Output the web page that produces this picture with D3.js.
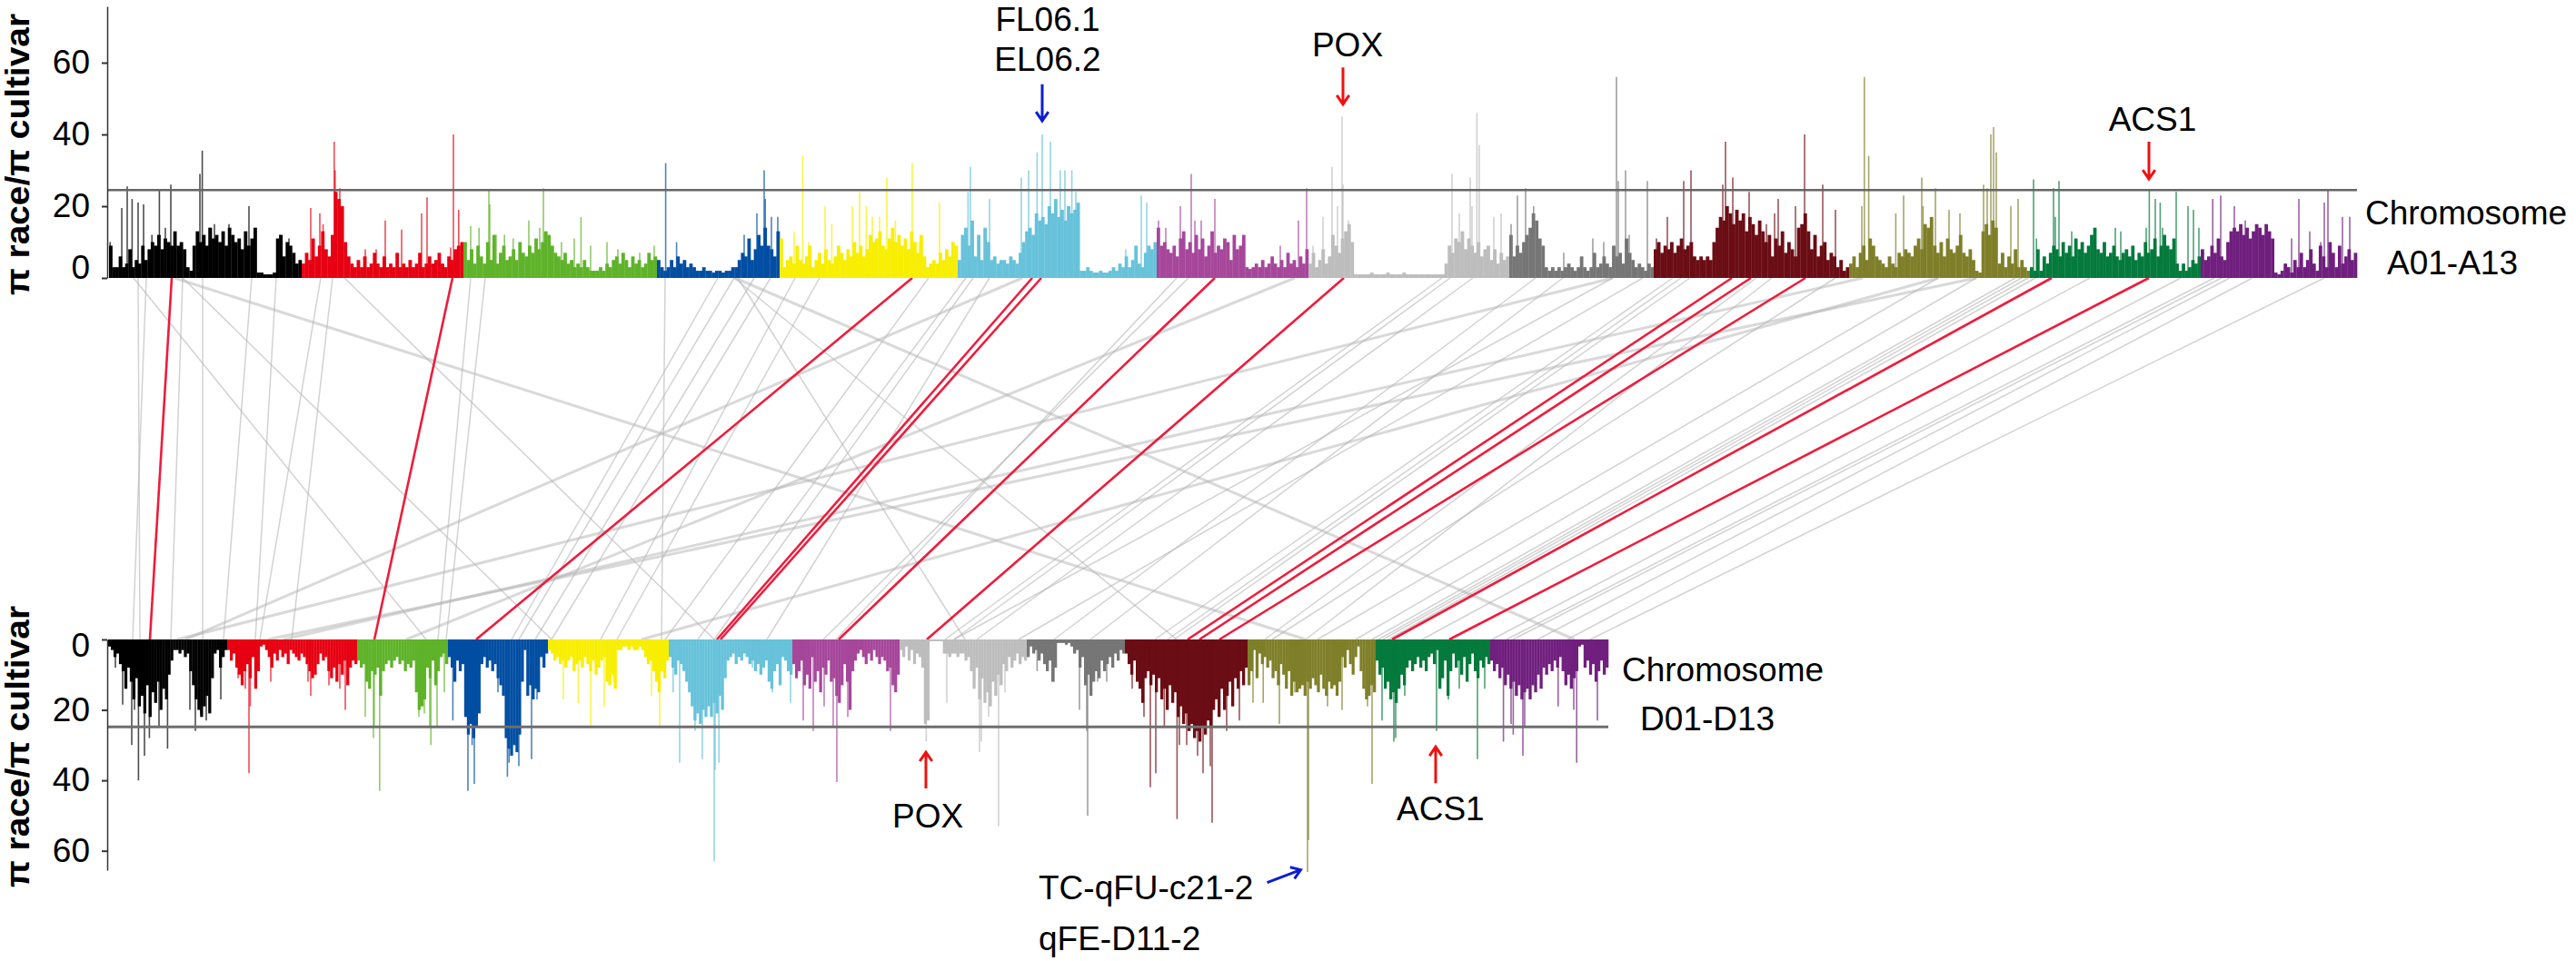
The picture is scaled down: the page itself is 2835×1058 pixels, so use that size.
<!DOCTYPE html>
<html>
<head>
<meta charset="utf-8">
<script src="https://cdn.jsdelivr.net/npm/d3@7"></script>
<style>
html, body { margin: 0; background: #fff; }
text { font-family: "Liberation Sans", Arial, sans-serif; }
</style>
</head>
<body>
<div id="chart"></div>
<script>
// 染色体の長さ (Mb)
const lenA = [106, 89, 106.5, 67.5, 98, 109.5, 83.5, 110.5, 79.5, 107.5, 99.5, 94, 86];
const lenD = [65.5, 71.5, 50, 55, 66.5, 68, 59, 70, 54, 67.5, 70.5, 63, 65];
const chrColors = ["#000000", "#e60012", "#5fb32a", "#004ea2", "#f8ee00", "#67c2da", "#a6479b",
    "#bdbdbd", "#767676", "#6b0d14", "#7f7f2a", "#047a3c", "#701f7e"];

// A subgenome: body values per equal bin
const a01 = [9,3,3,6,3,4,8,3,5,4,9,5,8,10,9,12,8,11,10,9,13,9,10,8,3,2,9,13,10,12,9,14,11,12,10,13,9,14,12,10,11,8,13,9,11,14,1.5,1.5,1,1,1,1.5,11,12,6,10,9,7,4,5];
const a02 = [4,7,5,11,6,9,13,8,6,12,24,22,20,10,6,4,3,5,3,6,3,4,7,4,3,6,3,4,3,7,3,4,3,5,3,4,7,3,4,6,4,5,7,4,3,6,5,8,9,10];
const a03 = [10,5,8,4,9,6,4,10,5,12,4,7,9,5,6,8,5,10,7,6,9,7,11,8,10,13,12,9,7,6,5,7,4,5,3,4,3,5,3,2,2,2,3,2,4,3,5,6,4,7,5,3,6,4,5,3,4,7,5,6];
const a04 = [5,3,2,3,5,3,6,4,5,3,4,3,2,2,3,2,2,1.5,2,2,1.5,2,2,3,3,5,7,6,11,5,8,12,9,14,9,8,6,13];
const a05 = [11,3,5,6,4,9,5,4,6,9,3,5,7,4,8,5,4,6,9,7,5,8,6,10,7,9,6,8,12,10,11,13,9,8,11,14,10,12,9,11,8,13,10,7,12,6,3,4,5,4,7,5,8,6,10,9];
const a06 = [5,12,14,9,16,6,12,5,14,10,5,6,4,5,5,4,6,5,4,7,10,13,14,12,18,16,17,15,20,18,22,17,19,16,20,18,19,21,2,2,3,2,1.5,1.5,2,1.5,1.5,2,3,2,4,3,6,3,5,9,4,3,7,9,8,10];
const a07 = [14,9,10,8,7,9,6,11,13,8,10,7,12,8,11,6,9,13,7,9,8,11,10,5,12,8,9,12,3,2.5,3,4,3,5,3,4,6,4,3,5,3,7,4,5,3,6,4,8];
const a08 = [4,7,3,5,8,4,6,12,9,7,11,13,15,10,1,1,1,1,1,1.5,1,1,1,1,1.5,1,1,1,1,1.5,1,1,1,1,1,1,1,1,1,1,1,1,4,9,7,11,10,13,8,11,9,7,10,6,8,9,5,8,4,7,5,6];
const a09 = [12,6,9,7,10,12,14,18,16,11,9,3,2,3,2,3,2,3,4,3,2,3,6,3,2,3,7,3,4,6,4,3,9,6,7,4,11,7,5,3,4,3,2,4,3];
const a10 = [8,10,7,9,8,10,7,9,11,8,9,10,6,5,6,5,6,5,10,14,17,16,20,18,15,19,16,18,13,17,15,12,16,13,10,12,6,11,9,13,7,10,8,6,14,15,18,13,8,12,6,9,10,5,7,6,3,5,2,3];
const a11 = [4,6,3,7,9,5,11,9,6,5,4,3,6,4,3,7,6,8,7,6,9,11,8,15,14,17,9,7,10,6,11,8,7,9,12,7,6,8,5,2,1.5,13,15,12,16,14,4,7,3,6,4,8,3,5,3,2];
const a12 = [3,2,8,2,6,4,7,9,8,6,10,7,9,6,11,8,10,7,9,12,14,8,7,10,6,7,9,6,5,7,8,6,9,5,7,6,10,7,8,11,6,9,12,9,8,11,4,2,4,2,3,5,4,6];
const a13 = [8,5,6,9,7,11,6,5,10,13,14,13,15,12,14,11,13,15,14,12,15,13,11,1.5,1,2,4,3,1.5,5,3,7,3,5,8,4,2,9,6,3,10,7,3,9,4,6,8,5,7];

// A subgenome: narrow peaks [Mb from chromosome start, value]
const a01Peaks = [[0.6,10],[7,19.5],[10,25.5],[12.7,22],[16,21],[19,20.5],[23.6,12],[27.7,24.5],[31,14],[34,26],[50,29],[51.3,35.5],[55,14],[58,15],[66,15],[77,20],[94,12],[99,11]];
const a02Peaks = [[5,19.5],[10,18],[11.8,15],[17.9,38],[18.4,30],[21,25],[35,8],[41,8],[46,16],[55,13.5],[66,18],[69,22.5],[82,8.5],[83.5,40],[86.4,19]];
const a03Peaks = [[4,14.5],[8.6,14],[14,24.5],[14.5,20.5],[18,12],[22.6,12],[27.4,11],[36,16],[44,25],[42,14],[54,10],[61,11],[64.7,17],[70,9],[79,10],[85,8],[97,7],[105,9]];
const a04Peaks = [[4.8,32],[10.8,10],[48,12],[55,18],[59,30],[59.6,22],[63,17],[66.5,17]];
const a05Peaks = [[8,13],[12.7,34],[16,10],[25,20],[28.7,15],[40,20],[44,24],[47.7,20],[51,17],[55,17],[59,28],[63.7,16],[73,32],[77,10],[88,21],[95,10]];
const a06Peaks = [[7,31],[5.7,24],[17.5,22],[35,28],[39,30],[43.7,35],[46.5,40],[51,38],[56.4,30],[59,30],[62.8,30],[65,24],[92.5,8],[101,23],[104,21]];
const a07Peaks = [[1,16],[5,14],[13,20],[19,29],[21,16],[24.5,16],[32,22],[37.5,9],[48,8],[68,9],[78,16],[82.5,25]];
const a08Peaks = [[2.5,9],[8,17],[13,31],[16,20],[18.5,45],[19,26],[22,16],[79,29],[83,18],[89,28],[90,20],[92.7,46],[94,37],[102,17],[106,18]];
const a09Peaks = [[1,15],[4.5,23],[9,25],[13.4,20],[30,7],[46,11],[52,10],[59,56],[60,27],[64,30],[66,12],[76,27]];
const a10Peaks = [[1.5,11],[7.5,17],[16.5,27],[20.5,30],[38,26],[39.5,38],[43.5,28],[52.5,24],[62,15],[66.5,18],[68.5,22],[78,20],[83,40],[93,26],[100,19]];
const a11Peaks = [[7,20],[8.4,56],[10.8,34],[25.7,18],[30,23],[40,28],[40.7,20],[47.5,25],[55,19],[61,18],[74,26],[76,25],[78,40],[79.5,42],[81,35],[89,20],[93,22]];
const a12Peaks = [[2,27.5],[3.6,11],[13,25],[14,17],[16,27],[23,13],[36,13],[47,14],[50,13],[64,14],[65.7,24.5],[69,22],[71.7,21],[73,14],[80.5,24],[87,20],[90,19],[93,14]];
const a13Peaks = [[6.6,22],[11,23],[18.5,20],[24.5,16],[33.5,10],[50,11],[54,22],[60,13],[66,10],[68,21],[70,24.5],[78,17],[82,17]];

// D subgenome: body values per equal bin
const d01 = [2,3,5,4,7,9,14,8,12,17,11,19,16,21,13,22,15,18,12,20,14,17,10,6,3,3,4,3,5,4,9,13,17,20,22,19,16,21,11,4,3,8,5,3];
const d02 = [3,6,4,8,10,13,9,7,11,5,14,9,2,1.5,3,5,8,4,6,3,5,4,7,3,4,5,6,4,5,7,9,11,10,7,4,6,5,9,11,8,12,7,10,6,13,8,6,7];
const d03 = [6,8,7,12,14,9,10,8,16,9,7,6,8,6,5,7,6,9,7,8,6,15,20,19,17,8,11,6,13,9,5,4,7];
const d04 = [5,8,12,6,9,7,22,27,24,28,25,21,7,5,8,6,9,7,11,13,16,28,31,33,30,32,27,12,3,16,13,17,14,15,5,8,4];
const d05 = [3,4,6,5,7,6,8,6,5,9,7,6,8,5,7,9,6,10,8,6,5,12,13,10,14,3,3,2,2,3,2,3,3,2,3,5,7,6,9,12,15,9,11,6];
const d06 = [5,8,10,6,7,9,12,15,19,23,21,24,20,22,19,22,18,21,16,20,11,6,5,4,7,5,6,4,5,7,6,9,7,10,8,6,12,14,9,7,13,5,6,9,10];
const d07 = [7,11,9,6,13,10,14,5,12,9,15,8,10,6,12,11,16,18,13,7,12,20,9,6,4,3,5,7,4,6,3,5,7,5,6,9,8,13,15,10];
const d08 = [3,5,2,6,3,7,4,5,8,24,23,0.5,0.5,0.5,0.5,0.5,4,4,5,4,4,5,4,4,6,5,9,14,8,17,11,18,15,19,12,16,10,13,7,9,5,8,6,4,7,5,6];
const d09 = [5,2,4,3,6,4,7,9,6,12,8,1,1,1,1.5,1,2,4,3,8,5,13,10,16,12,9,11,6,9,7,5,8,4,6,3,4];
const d10 = [4,7,10,6,12,14,18,11,9,13,10,15,11,17,14,20,13,18,15,22,19,24,21,26,24,28,26,29,25,27,23,25,20,17,22,14,20,16,12,19,11,14,9,13,8];
const d11 = [13,9,3,11,4,7,5,8,6,11,9,13,7,10,14,9,16,12,15,14,13,16,12,14,11,13,15,10,14,16,12,14,13,16,12,5,8,3,7,10,5,2,9,14,17,16,13,15];
const d12 = [6,10,8,14,12,17,15,18,14,10,13,8,6,9,7,5,8,6,9,5,4,7,3,14,11,6,16,9,4,8,6,10,5,12,7,4,9,11,6,8,5,7];
const d13 = [6,9,7,11,8,13,10,14,12,16,13,17,15,14,17,13,15,10,14,8,10,7,9,6,8,5,9,13,10,14,11,9,2,1.5,8,6,10,7,12,9,6,10,8];

// D subgenome: narrow peaks
const d01Peaks = [[4,8],[8,18.5],[13,30],[14.5,20],[16.7,40],[20,33],[22.7,28],[28,25],[32.7,31],[45,20],[48,26],[51,21],[54,23],[62,17]];
const d02Peaks = [[6,11],[10,14],[12,38],[12.7,19],[24,12],[44.5,12],[46,16],[56,13],[62,14],[65,20]];
const d03Peaks = [[4.5,22],[9,28],[9.4,25],[12.4,43],[34,22],[37,21],[40,25],[40.6,30],[44,25],[48,15]];
const d04Peaks = [[2.7,23],[11,43],[13.3,30],[14.5,41],[27.5,15],[32.7,39],[33.6,35],[39,36],[46,34],[49,17]];
const d05Peaks = [[8.5,17],[16.7,18],[23.6,25],[31,19],[36,12],[57,16],[61.5,25]];
const d06Peaks = [[2.4,15],[6,35],[14.5,26],[18.5,34],[25,63],[25.5,37],[27.6,35],[46,8],[57,15],[67,18]];
const d07Peaks = [[6,23],[11.5,26],[17.5,19],[22.5,25],[24.5,40.5],[30.5,22],[54,26]];
const d08Peaks = [[14.7,29],[26,18],[44,32],[45,29],[49,22],[54.5,53],[58,15]];
const d09Peaks = [[5.7,9],[15,12],[29,20],[33,26],[33.5,50],[39,12],[44,12]];
const d10Peaks = [[4,14],[10.5,22],[14,42],[17,38],[21.7,25],[28.7,51],[30,30],[34,30],[40,33],[43,38],[47,36],[48,52],[56,26],[63,23]];
const d11Peaks = [[3,18],[8.6,18],[17.5,24],[26,15],[33,66],[33.5,57],[44,19],[52,20],[66,19],[68.5,41]];
const d12Peaks = [[3.5,23],[10,29],[11,28],[16,16],[33.5,26],[40,17],[46,14],[56,34],[60,14]];
const d13Peaks = [[7.3,29],[11.5,24],[12.7,27],[18,33],[19,25],[37.4,19],[46,20],[47.6,35],[59,23]];

// リンク [A位置 Mb, D位置 Mb]
const redLinks = [[34.5,23],[189,146.5],[442,202.5],[508,335],[513,337],[608.5,402],[679.5,450.5],
    [893,594],[903.5,600.5],[933.5,611.5],[1069,706.5],[1122.5,738]];
const grayLinks = [[16,17.5],[20.5,13.5],[40.5,34.5],[51.5,52],[78.5,63.5],[92,81],[116.5,83.5],[123,101],
    [199,181.5],[207,186],[306,304.5],[335,222],[344,226],[355,235],[364,244],[377.5,271],[391,280],
    [451,306.5],[471.5,324.5],[475.5,333.5],[484.5,362.5],[587.5,400.5],[594,393.5],
    [13.5,175],[40.5,244],[129.5,333.5],[346,471.5],[344,588],
    [750.5,478],[733.5,460.5],[738,465.5],[827.5,465.5],[844,501],[860.5,576],[865,583],[870,586.5],
    [906.5,636.5],[915,659],[1006.5,665.5],[1027.5,686.5],[1049,695.5],[1052.5,699],[1056,701.5],[1060,704.5],
    [1090,723],[1140,761.5],[1158.5,769.5],[1162.5,773],[1167,786.5],[1179.5,803],[1219,815.5],
    [950,640.5],[785,520.5],[800,540.5]];
const thickLinks = [[36,659],[344.5,807],[965,96.5],[1027.5,88],[1006.5,293.5],[827.5,38],[652.5,164],[502.5,42.5]];

const tickVals = [0, 20, 40, 60];
const threshA = 24.5;
const threshD = 24.8;

const aBodies = [a01,a02,a03,a04,a05,a06,a07,a08,a09,a10,a11,a12,a13];
const dBodies = [d01,d02,d03,d04,d05,d06,d07,d08,d09,d10,d11,d12,d13];
const aPeaks = [a01Peaks,a02Peaks,a03Peaks,a04Peaks,a05Peaks,a06Peaks,a07Peaks,a08Peaks,a09Peaks,a10Peaks,a11Peaks,a12Peaks,a13Peaks];
const dPeaks = [d01Peaks,d02Peaks,d03Peaks,d04Peaks,d05Peaks,d06Peaks,d07Peaks,d08Peaks,d09Peaks,d10Peaks,d11Peaks,d12Peaks,d13Peaks];

const svg = d3.select("#chart").append("svg")
    .attr("width", 2835)
    .attr("height", 1058)
    .style("display", "block");

// スケール
const xA = d3.scaleLinear().domain([0, d3.sum(lenA)]).range([120, 2594]);
const xD = d3.scaleLinear().domain([0, d3.sum(lenD)]).range([119, 1770]);
const yA = d3.scaleLinear().domain([0, 75.7]).range([306, 7]);
const yD = d3.scaleLinear().domain([0, 65.5]).range([704, 958]);

// リンクを先に描く
const linkG = svg.append("g").attr("fill", "none");
function drawLinks(data, color, w, op) {
    linkG.selectAll(null)
        .data(data)
        .enter().append("line")
        .attr("x1", d => xA(d[0]))
        .attr("y1", yA(0))
        .attr("x2", d => xD(d[1]))
        .attr("y2", yD(0))
        .attr("stroke", color)
        .attr("stroke-width", w)
        .attr("stroke-opacity", op);
}
drawLinks(grayLinks, "#b4b4b4", 1.5, 0.6);
drawLinks(thickLinks, "#b4b4b4", 3, 0.5);
drawLinks(redLinks, "#ee1c3c", 2.6, 1);

// 染色体ごとにバーを描く
function drawTrack(lens, bodies, peaks, x, y) {
    let start = 0;
    lens.forEach((len, i) => {
        const s = start;
        const g = svg.append("g").attr("fill", chrColors[i]);
        const band = d3.scaleBand().domain(d3.range(bodies[i].length)).range([x(s), x(s + len)]);
        g.selectAll("rect.body")
            .data(bodies[i])
            .enter().append("rect")
            .attr("class", "body")
            .attr("x", (d, j) => band(j))
            .attr("width", band.bandwidth() + 0.3)
            .attr("y", d => Math.min(y(0), y(d)))
            .attr("height", d => Math.abs(y(d) - y(0)));
        g.selectAll("line")
            .data(peaks[i])
            .enter().append("line")
            .attr("x1", d => x(s + d[0]))
            .attr("x2", d => x(s + d[0]))
            .attr("y1", y(0))
            .attr("y2", d => y(d[1]))
            .attr("stroke", chrColors[i])
            .attr("stroke-width", 1.6)
            .attr("stroke-opacity", 0.7);
        start += len;
    });
}
drawTrack(lenA, aBodies, aPeaks, xA, yA);
drawTrack(lenD, dBodies, dPeaks, xD, yD);

// しきい値の線
svg.append("line").attr("x1", 118).attr("x2", xA.range()[1])
    .attr("y1", yA(threshA)).attr("y2", yA(threshA))
    .attr("stroke", "#666").attr("stroke-width", 2.6);
svg.append("line").attr("x1", 118).attr("x2", xD.range()[1])
    .attr("y1", yD(threshD)).attr("y2", yD(threshD))
    .attr("stroke", "#6e6e6e").attr("stroke-width", 3);

// 軸
function drawAxis(y, zeroShift) {
    const g = svg.append("g")
        .attr("transform", "translate(118,0)")
        .call(d3.axisLeft(y).tickValues(tickVals).tickSize(6).tickPadding(13).tickSizeOuter(0));
    g.select(".domain").attr("stroke", "#333").attr("stroke-width", 1.5);
    g.selectAll(".tick line").attr("stroke", "#333").attr("stroke-width", 2);
    g.selectAll(".tick text").attr("font-size", 37).attr("fill", "#000")
        .style("font-family", "'Liberation Sans', Arial, sans-serif");
    g.selectAll(".tick text").filter(d => d === 0).attr("y", zeroShift);
}
drawAxis(yA, -11);
drawAxis(yD, 7);

// 軸タイトル
function axisTitle(cy) {
    svg.append("text")
        .attr("transform", `translate(32,${cy}) rotate(-90)`)
        .attr("text-anchor", "middle")
        .attr("font-size", 36)
        .attr("font-weight", "bold")
        .attr("textLength", 310)
        .attr("lengthAdjust", "spacingAndGlyphs")
        .text("π race/π cultivar");
}
axisTitle(170);
axisTitle(822);

// ラベル
function label(txt, x, y, anchor) {
    svg.append("text").attr("x", x).attr("y", y)
        .attr("text-anchor", anchor || "start")
        .attr("font-size", 37).attr("fill", "#000").text(txt);
}
label("FL06.1", 1153, 34, "middle");
label("EL06.2", 1153, 78, "middle");
label("POX", 1483, 62, "middle");
label("ACS1", 2369, 144, "middle");
label("Chromosome", 2603, 247);
label("A01-A13", 2627, 302);
label("Chromosome", 1785, 750);
label("D01-D13", 1805, 804);
label("POX", 982, 911);
label("ACS1", 1537, 903);
label("TC-qFU-c21-2", 1143, 990);
label("qFE-D11-2", 1143, 1046);

// 矢印
function arrow(x1, y1, x2, y2, color) {
    const a = Math.atan2(y2 - y1, x2 - x1);
    const h = 12;
    const p = d3.path();
    p.moveTo(x1, y1);
    p.lineTo(x2, y2);
    p.moveTo(x2 - h * Math.cos(a - 0.6), y2 - h * Math.sin(a - 0.6));
    p.lineTo(x2, y2);
    p.lineTo(x2 - h * Math.cos(a + 0.6), y2 - h * Math.sin(a + 0.6));
    svg.append("path").attr("d", p.toString()).attr("fill", "none")
        .attr("stroke", color).attr("stroke-width", 3);
}
arrow(xA(513.5), yA(54), xA(513.5), yA(43.8), "#0b1fd0");
arrow(xA(679), yA(58.7), xA(679), yA(48.4), "#f01010");
arrow(xA(1122.5), yA(38), xA(1122.5), yA(27.6), "#f01010");
arrow(xD(450), yD(42.3), xD(450), yD(32), "#f01010");
arrow(xD(730.5), yD(40.8), xD(730.5), yD(30.5), "#f01010");
arrow(xD(637.75), yD(69), xD(656.25), yD(65.4), "#0b1fd0");
</script>
</body>
</html>
